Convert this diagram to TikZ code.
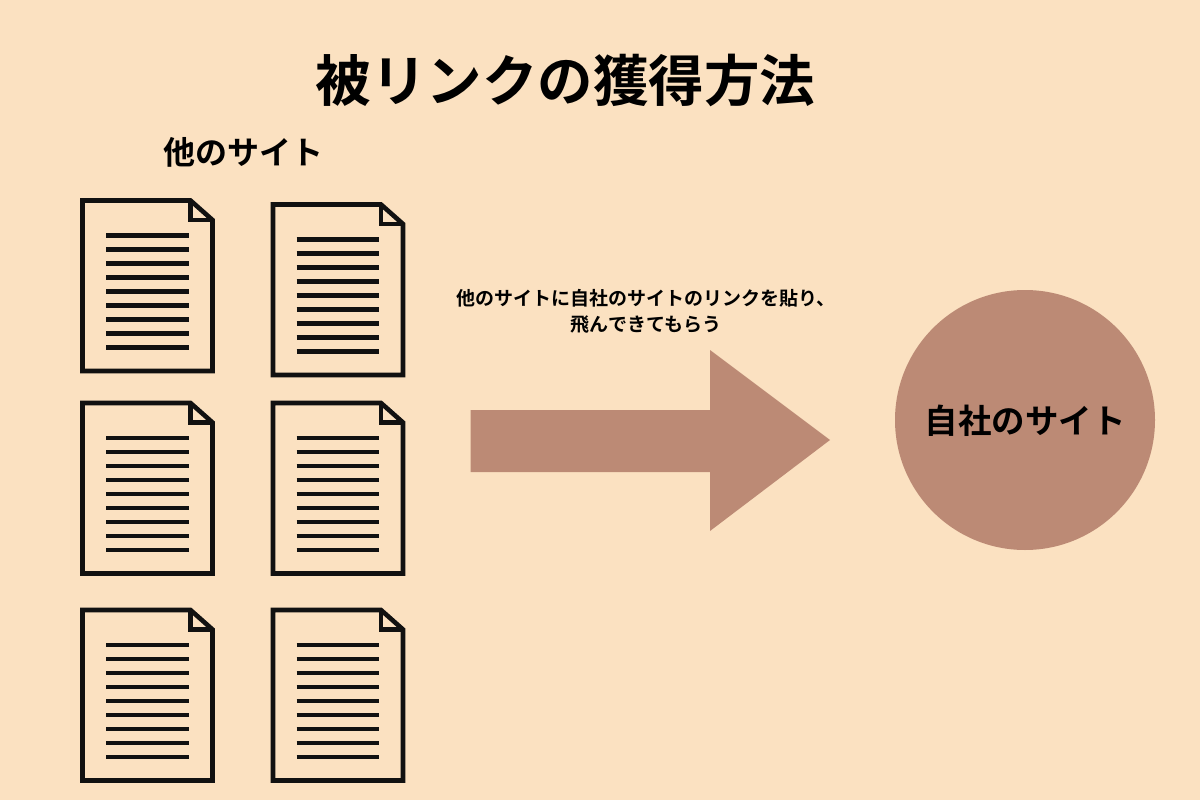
\documentclass[tikz,border=0pt]{standalone}
\usepackage{fontspec}
\newfontfamily\jpfont{Noto Sans CJK JP Bold}
\definecolor{bgcol}{HTML}{FBE1C1}
\definecolor{accent}{HTML}{BC8A75}
\definecolor{inkcol}{HTML}{111111}
\tikzset{
  doclines/.style={draw=inkcol,line width=4.6pt,line join=miter},
  rowline/.style={draw=inkcol,line width=4.4pt},
  label/.style={inner sep=0pt,text=black,font=\jpfont,align=center},
  pics/docicon/.style={code={
    \draw[doclines] (82.5,200.5) -- (190.5,200.5) -- (212.5,220) -- (212.5,371) -- (82.5,371) -- cycle;
    \draw[doclines] (190.5,200.5) -- (190.5,220) -- (212.5,220);
    \foreach \k in {0,...,8}
      \draw[rowline] (106,235.3+14*\k) -- (188.7,235.3+14*\k);
  }}
}
\begin{document}
\begin{tikzpicture}[x=1pt,y=-1pt]
\useasboundingbox (0,0) rectangle (1200,800);
\fill[bgcol] (0,0) rectangle (1200,800);
\pic at (0,0) {docicon};
\pic at (190.5,4) {docicon};
\pic at (0,202.5) {docicon};
\pic at (190.5,202.5) {docicon};
\pic at (0,409.5) {docicon};
\pic at (190.5,409.5) {docicon};
\fill[accent] (470.5,410) -- (710,410) -- (710,350) -- (830,440) -- (710,531) -- (710,472) -- (470.5,472) -- cycle;
\node[circle,fill=accent,minimum size=260pt,inner sep=0pt] (self) at (1025,420) {};
\node[label,font=\jpfont\fontsize{55.5}{60}\selectfont] (title) at (565.5,80) {被リンクの獲得方法};
\node[label,font=\jpfont\fontsize{32}{38}\selectfont] (others) at (243,152) {他のサイト};
\node[label,font=\jpfont\fontsize{33.5}{38}\selectfont] (selflabel) at (1025,420.5) {自社のサイト};
\node[label,font=\jpfont\fontsize{19}{26}\selectfont] (caption) at (646,311) {他のサイトに自社のサイトのリンクを貼り、\\飛んできてもらう};
\end{tikzpicture}
\end{document}
